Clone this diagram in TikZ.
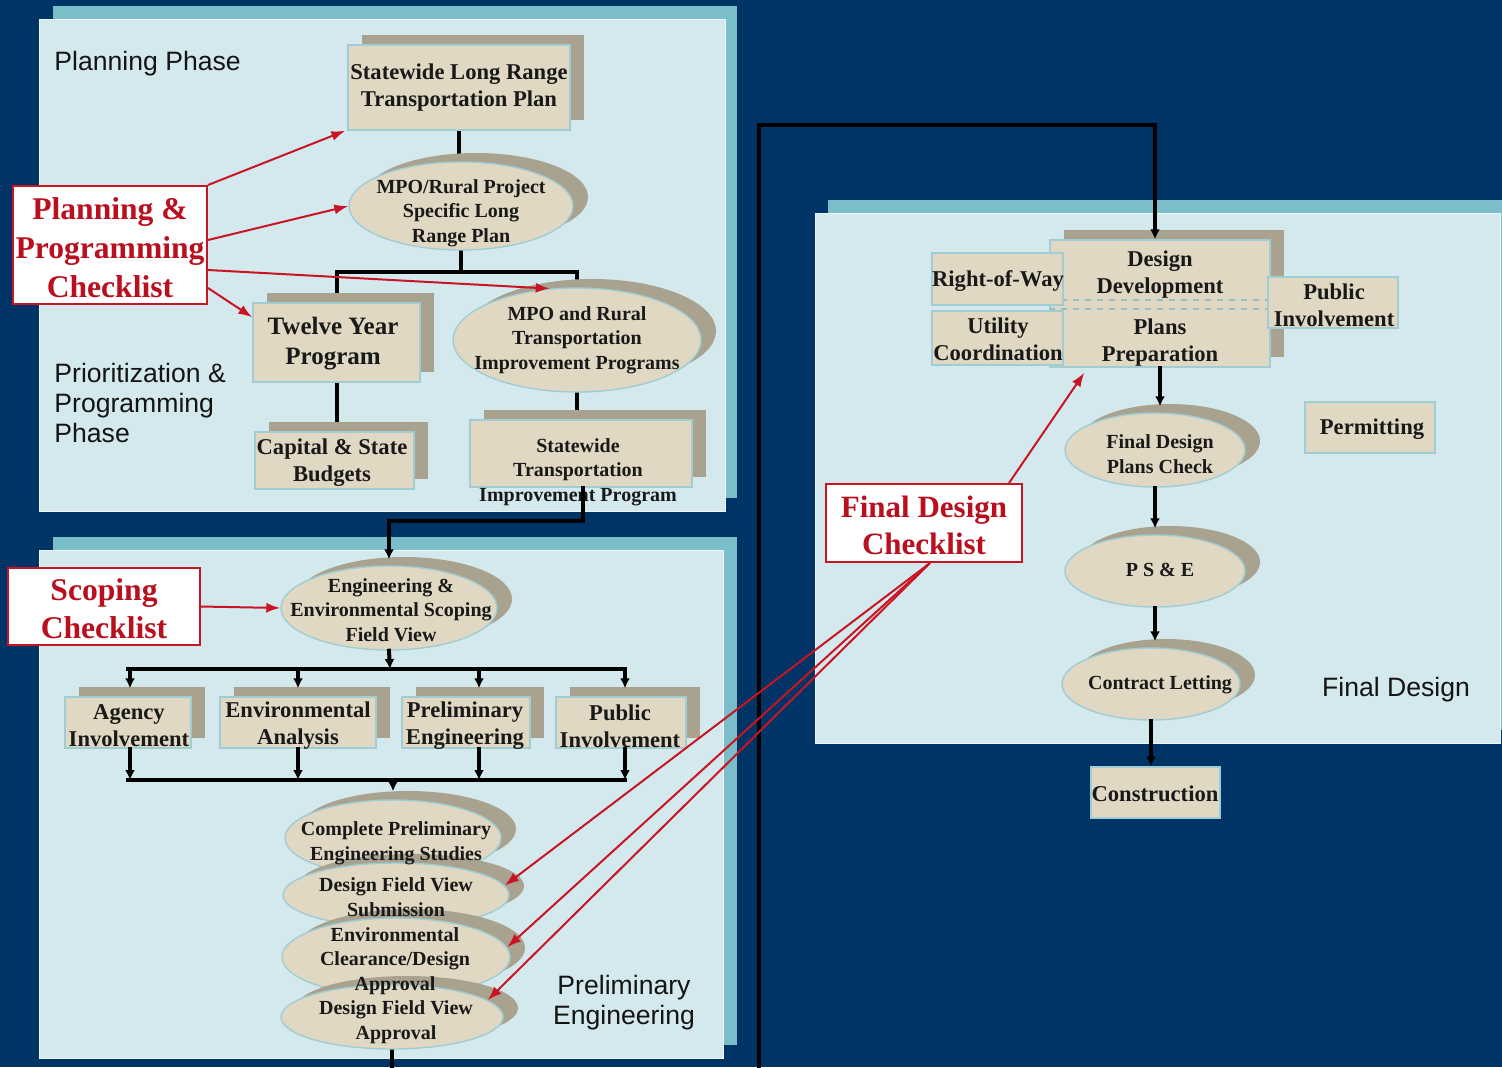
\documentclass[tikz,border=0pt]{standalone}
\usepackage{fontspec}
\setmainfont{Liberation Serif}
\newfontfamily\sansf{Liberation Sans}
\usetikzlibrary{shapes.geometric,shadows,arrows.meta,calc}
\definecolor{bgc}{RGB}{0,51,102}
\definecolor{panelc}{RGB}{212,233,238}
\definecolor{tealc}{RGB}{122,190,202}
\definecolor{boxc}{RGB}{224,216,194}
\definecolor{shadc}{RGB}{168,162,143}
\definecolor{edgec}{RGB}{160,205,212}
\definecolor{dashc}{RGB}{150,190,200}
\definecolor{redc}{RGB}{200,20,35}
\definecolor{redt}{RGB}{185,15,30}
\definecolor{txtc}{RGB}{25,25,25}
\pgfdeclarelayer{back}
\pgfdeclarelayer{lines}
\pgfsetlayers{back,lines,main}
\tikzset{
  flatbox/.style={rectangle, fill=boxc, draw=edgec, line width=0.7pt, inner sep=0pt},
  box/.style={flatbox, general shadow={fill=shadc, shadow xshift=7pt, shadow yshift=5pt}},
  ellp/.style={ellipse, fill=boxc, draw=edgec, line width=0.7pt, inner sep=0pt,
    general shadow={fill=shadc, shadow xshift=7.5pt, shadow yshift=4.5pt}},
  lbl/.style={align=center, text=txtc, inner sep=0pt},
  check/.style={rectangle, fill=white, draw=redc, line width=1pt, inner sep=0pt},
  conn/.style={draw=black, line width=2pt, line cap=rect},
  arr/.style={-{Latex[length=5pt,width=5pt]}},
  rarr/.style={draw=redc, line width=1pt, -{Latex[length=7pt,width=5pt]}},
  sanslbl/.style={text=txtc!80!black, inner sep=0pt, font=\sansf\fontsize{13.3}{15}\selectfont},
  fa/.style={font=\bfseries\fontsize{11.3}{13.5}\selectfont},
  fb/.style={font=\bfseries\fontsize{10}{12.3}\selectfont},
  fc/.style={font=\bfseries\fontsize{15.8}{19.5}\selectfont, text=redt},
}
\begin{document}
\begin{tikzpicture}[x=0.5pt,y=-0.5pt]
\clip (0,0) rectangle (1502,1067);
\begin{pgfonlayer}{back}
\fill[bgc] (0,0) rectangle (1502,1067);
\fill[tealc] (53,6) rectangle (737,498);
\fill[panelc, draw=white!60!panelc, line width=0.5pt] (39,19) rectangle (725,511);
\fill[tealc] (53,537) rectangle (737,1045);
\fill[panelc, draw=white!60!panelc, line width=0.5pt] (39,550) rectangle (723,1058);
\fill[tealc] (828,200) rectangle (1510,730);
\fill[panelc, draw=white!60!panelc, line width=0.5pt] (815,213) rectangle (1500,743);
\end{pgfonlayer}

% ---------- Planning panel ----------
\node[sanslbl, anchor=west] (lplan) at (54,64) {Planning Phase};
\node[sanslbl, anchor=west, align=left] (lprio) at (54,403) {Prioritization \&\\Programming\\Phase};

\node[box, minimum width=111pt, minimum height=42.5pt] (slrtp) at (459,87.5) {};
\node[lbl, fa] (slrtpt) at (459,88) {Statewide Long Range\\Transportation Plan};

\node[ellp, minimum width=112pt, minimum height=44pt] (mpo) at (461,206) {};
\node[lbl, fb] (mpot) at (461,213) {MPO/Rural Project\\Specific Long\\Range Plan};

\node[box, minimum width=83.5pt, minimum height=39.5pt] (ty) at (336.5,342.5) {};
\node[lbl, font=\bfseries\fontsize{12.5}{15}\selectfont] (tyt) at (333,344) {Twelve Year\\Program};

\node[ellp, minimum width=124pt, minimum height=52pt] (mrt) at (577,340) {};
\node[lbl, fb] (mrtt) at (577,340) {MPO and Rural\\Transportation\\Improvement Programs};

\node[box, minimum width=79.5pt, minimum height=28.5pt] (cap) at (334.5,460.5) {};
\node[lbl, fa] (capt) at (332,463) {Capital \& State\\Budgets};

\node[box, minimum width=111pt, minimum height=33.5pt] (stip) at (581,453.5) {};
\node[lbl, fb] (stipt) at (578,472) {Statewide\\Transportation\\Improvement Program};

\node[check, minimum width=97pt, minimum height=59pt] (ppc) at (110,245) {};
\node[lbl, fc] (ppct) at (110,248) {Planning \&\\Programming\\Checklist};

% ---------- Preliminary panel ----------
\node[check, minimum width=96pt, minimum height=38.5pt] (sc) at (104,606.5) {};
\node[lbl, font=\bfseries\fontsize{15.8}{19}\selectfont, text=redt] (sct) at (104,609) {Scoping\\Checklist};

\node[ellp, minimum width=108pt, minimum height=42pt] (ese) at (389,608) {};
\node[lbl, fb] (eset) at (391,610) {Engineering \&\\Environmental Scoping\\Field View};

\node[box, minimum width=63pt, minimum height=25.5pt] (ag) at (128,722.5) {};
\node[lbl, fa] (agt) at (129,726) {Agency\\Involvement};
\node[box, minimum width=78pt, minimum height=25.5pt] (env) at (298,722.5) {};
\node[lbl, fa] (envt) at (298,726) {Environmental\\Analysis};
\node[box, minimum width=64pt, minimum height=25.5pt] (pre) at (466,722.5) {};
\node[lbl, fa] (pret) at (465,726) {Preliminary\\Engineering};
\node[box, minimum width=65pt, minimum height=25.5pt] (pub) at (621,722.5) {};
\node[lbl, fa] (pubt) at (620,726) {Public\\Involvement};

\node[ellp, minimum width=108pt, minimum height=38pt] (cpe) at (393,838) {};
\node[ellp, minimum width=113pt, minimum height=32pt] (dfvs) at (396,895) {};
\node[ellp, minimum width=114pt, minimum height=39pt] (eca) at (396,957) {};
\node[ellp, minimum width=111pt, minimum height=32pt] (dfva) at (392,1017) {};
\node[lbl, fb] (cpet) at (396,843) {Complete Preliminary\\Engineering Studies};
\node[lbl, fb] (dfvst) at (396,897) {Design Field View\\Submission};
\node[lbl, fb] (ecat) at (395,961) {Environmental\\Clearance/Design\\Approval};
\node[lbl, fb] (dfvat) at (396,1022) {Design Field View\\Approval};

\node[sanslbl, align=center] (lpre) at (624,1003) {Preliminary\\Engineering};

% ---------- Final design panel ----------
\node[box, minimum width=110pt, minimum height=63.5pt] (dd) at (1160,303.5) {};
\draw[dashc, dashed, line width=0.8pt] ([yshift=1.75pt]dd.west) -- ([yshift=1.75pt]dd.east);
\draw[dashc, dashed, line width=0.8pt] ([yshift=-2.75pt]dd.west) -- ([yshift=-2.75pt]dd.east);
\node[lbl, fa] (ddt) at (1160,275) {Design\\Development};
\node[lbl, fa] (ppt) at (1160,343) {Plans\\Preparation};

\node[flatbox, minimum width=65.5pt, minimum height=26pt] (row) at (997.5,279) {};
\node[lbl, fa] (rowt) at (998,281) {Right-of-Way};
\node[flatbox, minimum width=65.5pt, minimum height=27pt] (util) at (997.5,338) {};
\node[lbl, fa] (utilt) at (998,339) {Utility\\Coordination};
\node[flatbox, minimum width=65pt, minimum height=25.5pt] (pubf) at (1333,302.5) {};
\node[lbl, fa] (pubft) at (1334,305) {Public\\Involvement};
\node[flatbox, minimum width=65pt, minimum height=25.5pt] (perm) at (1370,427.5) {};
\node[lbl, fa] (permt) at (1372,429) {Permitting};

\node[ellp, minimum width=90pt, minimum height=37pt] (fdpc) at (1155,450) {};
\node[lbl, fb] (fdpct) at (1160,454) {Final Design\\Plans Check};
\node[ellp, minimum width=90pt, minimum height=36pt] (pse) at (1155,571) {};
\node[lbl, fb] (pset) at (1160,570) {P S \& E};
\node[ellp, minimum width=89pt, minimum height=36pt] (cl) at (1151,684) {};
\node[lbl, fb] (clt) at (1160,685) {Contract Letting};
\node[flatbox, minimum width=64.5pt, minimum height=25.5pt] (cons) at (1155.5,792.5) {};
\node[lbl, fa] (const) at (1155,794) {Construction};

\node[sanslbl] (lfd) at (1396,690) {Final Design};

\node[check, minimum width=98pt, minimum height=39pt] (fdc) at (924,523) {};
\node[lbl, font=\bfseries\fontsize{15.5}{18.5}\selectfont, text=redt] (fdct) at (924,525) {Final Design\\Checklist};

% ---------- connectors (behind shapes) ----------
\coordinate (br) at (461,272);
\coordinate (lb) at (759,1100);
\coordinate (lt) at (759,125);
\begin{pgfonlayer}{lines}
\draw[conn] (slrtp.south) -- (slrtp.south |- mpo.north);
\draw[conn] (mpo.south) -- (br);
\draw[conn] (ty.north) |- (br) -| (mrt.north);
\draw[conn] (ty.south) -- (ty.south |- cap.north);
\draw[conn] (mrt.south) -- (mrt.south |- stip.north);
\draw[conn, line width=2.3pt] (dfva.south) |- (lb) -- (lt);
\end{pgfonlayer}

% ---------- arrows (on top) ----------
\draw[conn, arr, shorten >=3pt] ([xshift=1pt]stip.south) -- ++(0,33) -| (ese.north);
\coordinate (bus1) at (390,669);
\coordinate (bus2) at (393,780);
\draw[conn, arr] (ese.south) -- (bus1);
\draw[conn] (ag.north |- bus1) -- ([xshift=2pt]pub.north |- bus1);
\foreach \n/\s in {ag/1, env/0, pre/6.5, pub/2}{
  \draw[conn, arr, shorten >=4pt] ([xshift=\s pt]\n.north |- bus1) -- ([xshift=\s pt]\n.north);
  \draw[conn, arr] ([xshift=\s pt]\n.south) -- ([xshift=\s pt]\n.south |- bus2);
}
\draw[conn] (ag.south |- bus2) -- ([xshift=2pt]pub.south |- bus2);
\draw[conn, arr, shorten >=4pt] (bus2) -- (cpe.north);

\draw[conn, line width=2.3pt, arr] (lt) -| ([xshift=-2.5pt]dd.north);
\draw[conn, arr, shorten >=3pt] (dd.south) -- (dd.south |- fdpc.north);
\draw[conn, arr, shorten >=3pt] (fdpc.south) -- (fdpc.south |- pse.north);
\draw[conn, arr, shorten >=3pt] (pse.south) -- (pse.south |- cl.north);
\draw[conn, arr] (cl.south) -- (cl.south |- cons.north);

% red checklist arrows
\draw[rarr] (ppc.north east) -- ([xshift=-1pt]slrtp.south west);
\draw[rarr] ([yshift=2.5pt]ppc.east) -- (mpo.west);
\draw[rarr] ([yshift=-12.5pt]ppc.east) -- (mrt.118);
\draw[rarr] ([yshift=-21.5pt]ppc.east) -- ([yshift=-7.5pt]ty.north west);
\draw[rarr] (sc.east) -- (ese.west);
\draw[rarr] ([xshift=-7pt]fdc.north east) -- ([xshift=17.5pt,yshift=-2.5pt]dd.south west);
\draw[rarr] ([xshift=3pt]fdc.south) -- (dfvs.5);
\draw[rarr] ([xshift=3pt]fdc.south) -- (eca.5);
\draw[rarr] ([xshift=3pt]fdc.south) -- (dfva.10);
\end{tikzpicture}
\end{document}
